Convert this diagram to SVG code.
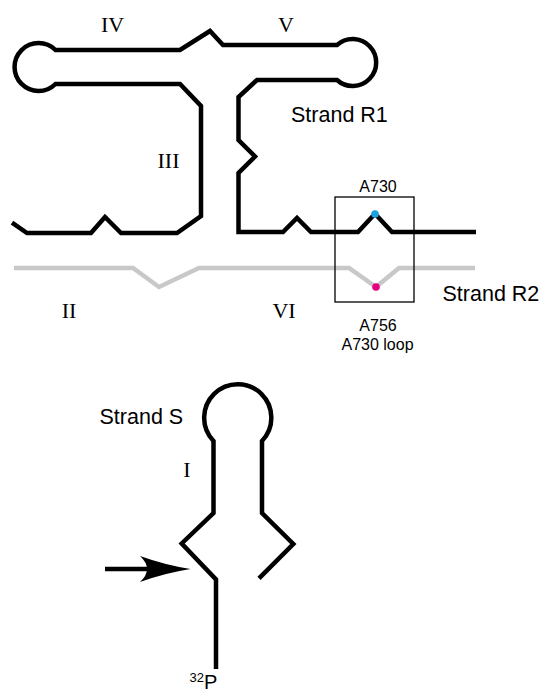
<svg xmlns="http://www.w3.org/2000/svg" width="542" height="692" viewBox="0 0 542 692">
<style>
.strand{fill:none;stroke:#000;stroke-width:4.5;stroke-linejoin:miter;stroke-miterlimit:4}
.r2{fill:none;stroke:#c8c8c8;stroke-width:4.5;stroke-linejoin:miter}
.rom{font-family:"Liberation Serif","Times New Roman",serif;font-size:22px;fill:#000;text-anchor:middle}
.lab{font-family:"Liberation Sans",Arial,Helvetica,sans-serif;font-size:21.5px;fill:#000}
.small{font-family:"Liberation Sans",Arial,Helvetica,sans-serif;font-size:16px;fill:#000;text-anchor:middle}
</style>
<rect width="542" height="692" fill="#fff"/>
<g id="strand-R1">
<path class="strand" d="M12,222.7 L27,233 L91,233 L105,217 L121,233 L177,233 L201,216 L201,106 L180,84 L55.5,84 A24,24 0 1 1 55.5,50 L180,50 L210,31 L223,45 L337,45 A23.5,23.5 0 1 1 337,80 L257,80 L238.5,97 L238.5,140 L255,156.5 L238.5,173 L238.5,232 L283,232 L297,218 L311,232 L358,232 L375,213.7 L392,232 L476,232"/>
</g>
<g id="strand-R2">
<path class="r2" d="M14,268 L133,268 L159,287 L199,268 L349,268 L376,287 L399,268 L475,268"/>
</g>
<g id="a730-loop-box">
<rect x="335" y="197" width="79" height="105" fill="none" stroke="#000" stroke-width="1.3"/>
<circle cx="375" cy="214" r="3.8" fill="#1ba1e2"/>
<circle cx="376" cy="287" r="3.8" fill="#e5007e"/>
</g>
<g id="strand-S">
<path class="strand" d="M216,669 L216,579.5 L181.7,543.5 L213.5,513 L213.5,441 A33.6,33.6 0 1 1 262,441 L262,513 L293.3,544 L259,578.3"/>
</g>
<g id="connectors">
<line x1="105" y1="569" x2="152" y2="569" stroke="#000" stroke-width="4.5"/>
<path d="M190.5,569 Q165,565 140,556 Q154,569 140,582 Q165,573 190.5,569 Z" fill="#000"/>
</g>
<g id="labels">
<text class="rom" x="112.5" y="32">IV</text>
<text class="rom" x="286" y="32">V</text>
<text class="rom" x="168.5" y="167.5">III</text>
<text class="rom" x="69" y="318">II</text>
<text class="rom" x="284" y="318">VI</text>
<text class="rom" x="187" y="477">I</text>
<text class="lab" x="291" y="121.5">Strand R1</text>
<text class="lab" x="442.5" y="301">Strand R2</text>
<text class="lab" x="99.5" y="424">Strand S</text>
<text class="small" x="378" y="191.5">A730</text>
<text class="small" x="378" y="331">A756</text>
<text class="small" x="377.5" y="350">A730 loop</text>
<text font-family="Liberation Sans,Arial,sans-serif" x="189.5" y="682" font-size="13">32<tspan font-size="20" y="689">P</tspan></text>
</g>
</svg>
